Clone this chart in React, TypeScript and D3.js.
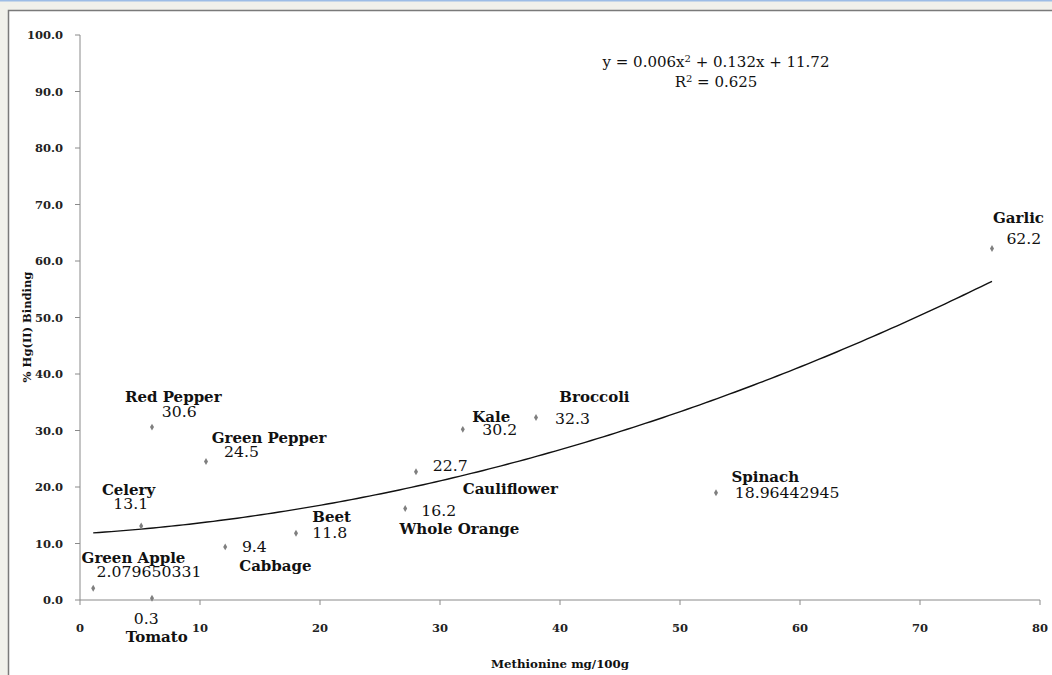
import React from "react";
import * as d3 from "d3";

// Vegetables: methionine content (mg/100g) vs. % Hg(II) binding
const names = [
  "Green Apple", "Tomato", "Celery", "Red Pepper", "Green Pepper", "Cabbage", "Beet",
  "Whole Orange", "Cauliflower", "Kale", "Broccoli", "Spinach", "Garlic",
];
const methionine = [1.1, 6.0, 5.1, 6.0, 10.5, 12.1, 18.0, 27.1, 28.0, 31.9, 38.0, 53.0, 76.0];
const binding = [2.079650331, 0.3, 13.1, 30.6, 24.5, 9.4, 11.8, 16.2, 22.7, 30.2, 32.3, 18.96442945, 62.2];

const xTicks = [0, 10, 20, 30, 40, 50, 60, 70, 80];
const yTicks = [0, 10, 20, 30, 40, 50, 60, 70, 80, 90, 100];

// Quadratic trendline coefficients and fit quality
const trendA = 0.006;
const trendB = 0.132;
const trendC = 11.72;
const rSquared = 0.625;

// Label placement relative to each point: [nameDx, nameDy, valueDx, valueDy]
const labelOffsets: [number, number, number, number][] = [
  [-11.6, -25, 3.4, -11],
  [-26.3, 44, -18.3, 25.7],
  [-39.3, -31.3, -28, -17],
  [-27, -24.7, 9.7, -9.7],
  [5.7, -18.3, 18, -4.6],
  [14, 24.4, 16.7, 5.4],
  [16.3, -11, 16.3, 4.7],
  [-5.7, 25.7, 16, 7.4],
  [46.7, 22.7, 16.7, -0.6],
  [9.4, -7.4, 19.4, 5.3],
  [23.3, -15.7, 19, 6],
  [15.4, -10.7, 18.7, 5.3],
  [1, -26, 14.4, -4.3],
];

const W = 1052;
const H = 675;
const FONT = "'DejaVu Serif', serif";

export default function App() {
  const x = d3.scaleLinear().domain([0, 80]).range([80, 1040]);
  const y = d3.scaleLinear().domain([0, 100]).range([600, 35]);

  const xMin = d3.min(methionine) as number;
  const xMax = d3.max(methionine) as number;
  const fit = (v: number) => trendA * v * v + trendB * v + trendC;
  const curveXs = d3.range(xMin, xMax, 0.5).concat([xMax]);
  const line = d3
    .line<number>()
    .x((v) => x(v))
    .y((v) => y(fit(v)));

  const diamond = d3.symbol().type(d3.symbolDiamond).size(14)() as string;
  const axisColor = "#8a8a8a";

  return (
    <svg
      width={W}
      height={H}
      style={{ position: "absolute", left: 0, top: 0, display: "block" }}
      fontFamily={FONT}
    >
      {/* window chrome */}
      <rect x={0} y={0} width={W} height={H} fill="#f1f1eb" />
      <rect x={0} y={0} width={W} height={1.5} fill="#9dbde6" />
      <rect x={8.5} y={10.5} width={W} height={H} fill="#ffffff" stroke="#7a7a7a" strokeWidth={1.5} />

      {/* y axis */}
      <line x1={x(0)} x2={x(0)} y1={y(100)} y2={y(0)} stroke={axisColor} strokeWidth={1} />
      {yTicks.map((t) => (
        <g key={"y" + t}>
          <line x1={x(0) - 5} x2={x(0)} y1={y(t)} y2={y(t)} stroke={axisColor} />
          <text
            x={x(0) - 17}
            y={y(t)}
            dy="0.35em"
            textAnchor="end"
            fontSize={11.5}
            fontWeight="bold"
            fill="#222"
          >
            {t.toFixed(1)}
          </text>
        </g>
      ))}

      {/* x axis */}
      <line x1={x(0)} x2={x(80)} y1={y(0)} y2={y(0)} stroke={axisColor} strokeWidth={1} />
      {xTicks.map((t) => (
        <g key={"x" + t}>
          <line x1={x(t)} x2={x(t)} y1={y(0)} y2={y(0) + 5} stroke={axisColor} />
          <text x={x(t)} y={y(0) + 32} textAnchor="middle" fontSize={11.5} fontWeight="bold" fill="#222">
            {t}
          </text>
        </g>
      ))}

      {/* axis titles */}
      <text
        transform={`translate(31, 327) rotate(-90)`}
        textAnchor="middle"
        fontSize={11.5}
        fontWeight="bold"
        fill="#111"
      >
        % Hg(II) Binding
      </text>
      <text x={560} y={668} textAnchor="middle" fontSize={11.8} fontWeight="bold" fill="#111">
        Methionine mg/100g
      </text>

      {/* trendline */}
      <path d={line(curveXs) as string} fill="none" stroke="#111" strokeWidth={1.4} />

      {/* points and labels */}
      {names.map((n, i) => {
        const px = x(methionine[i]);
        const py = y(binding[i]);
        const [ndx, ndy, vdx, vdy] = labelOffsets[i];
        return (
          <g key={n}>
            <path d={diamond} transform={`translate(${px},${py})`} fill="#7f7f7f" />
            <text x={px + ndx} y={py + ndy} fontSize={15} fontWeight="bold" fill="#111">
              {n}
            </text>
            <text x={px + vdx} y={py + vdy} fontSize={15.7} fill="#111">
              {String(binding[i])}
            </text>
          </g>
        );
      })}

      {/* trendline equation */}
      <text x={716} y={67} textAnchor="middle" fontSize={15} fill="#111">
        {`y = ${trendA}x`}
        <tspan dy={-5} fontSize={10}>2</tspan>
        <tspan dy={5}>{`  + ${trendB}x + ${trendC}`}</tspan>
      </text>
      <text x={716} y={87} textAnchor="middle" fontSize={15} fill="#111">
        R<tspan dy={-5} fontSize={10}>2</tspan>
        <tspan dy={5}>{` = ${rSquared}`}</tspan>
      </text>
    </svg>
  );
}
